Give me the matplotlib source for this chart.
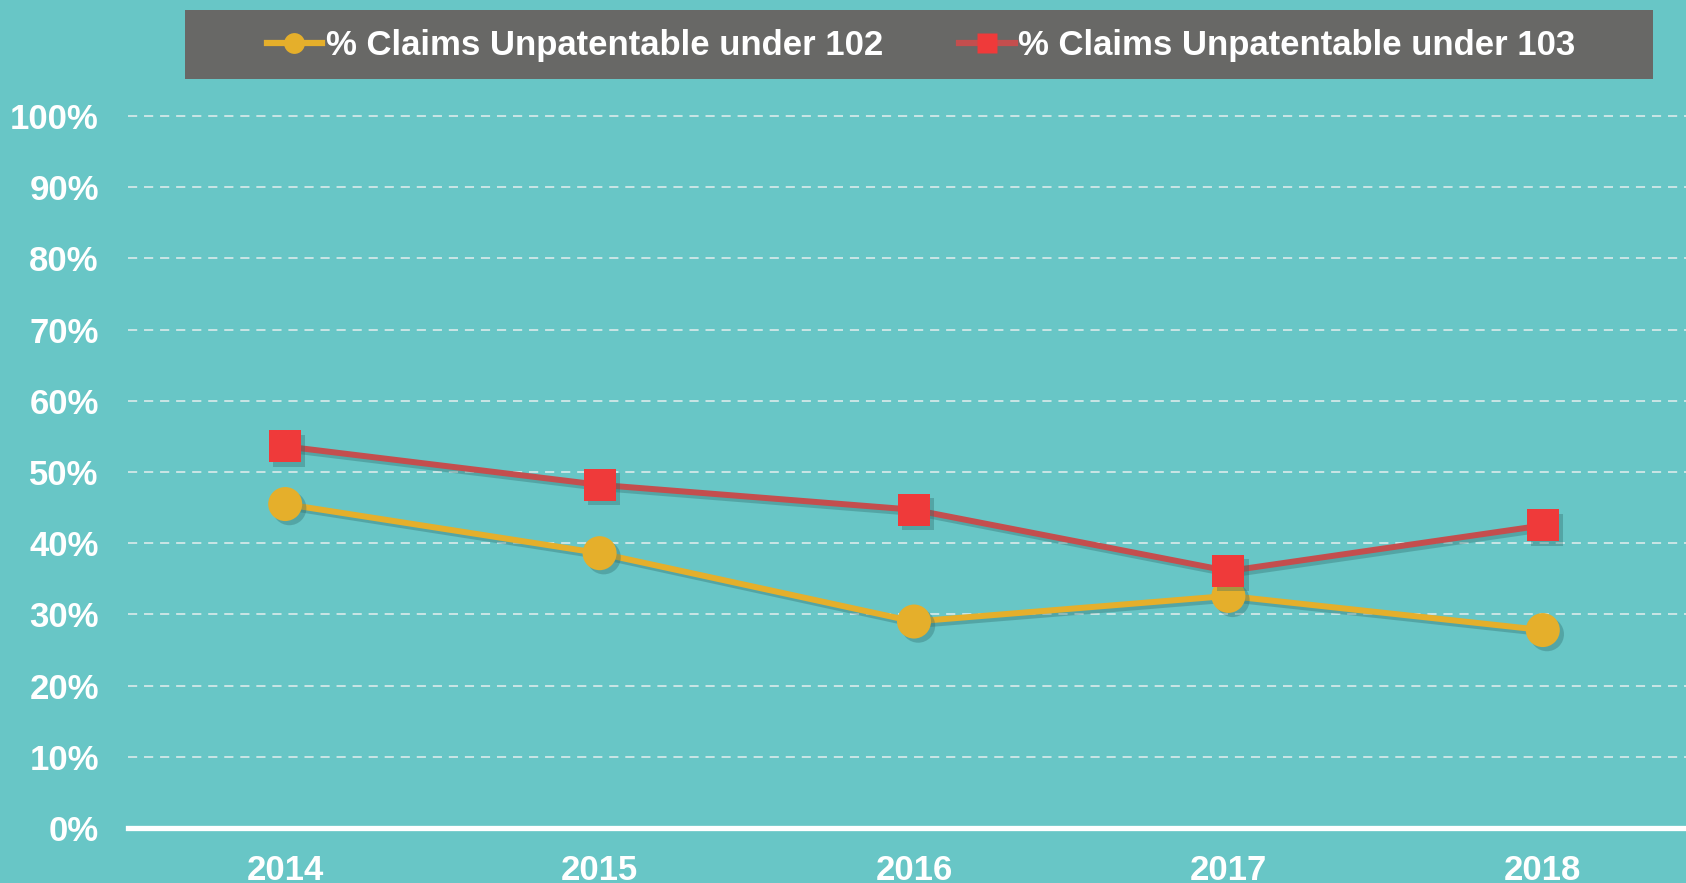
import matplotlib
matplotlib.use("Agg")
import matplotlib.pyplot as plt
import matplotlib.patheffects as pe
from matplotlib.lines import Line2D
from matplotlib.patches import Rectangle

# Data
years = ["2014", "2015", "2016", "2017", "2018"]
pct_102 = [0.455, 0.386, 0.290, 0.326, 0.278]
pct_103 = [0.536, 0.482, 0.447, 0.361, 0.425]
y_ticks = [0.0, 0.1, 0.2, 0.3, 0.4, 0.5, 0.6, 0.7, 0.8, 0.9, 1.0]
y_tick_labels = ["0%", "10%", "20%", "30%", "40%", "50%", "60%", "70%", "80%", "90%", "100%"]
labels = ["% Claims Unpatentable under 102", "% Claims Unpatentable under 103"]

BG = "#68c6c6"
YELLOW = "#e5af2b"
RED_LINE = "#c44e4e"
RED_MARK = "#ef3a3a"
SHADOW = "#2e6a6a"

plt.rcParams["font.family"] = ["Liberation Sans", "DejaVu Sans"]
plt.rcParams["font.weight"] = "bold"

fig = plt.figure(figsize=(16.86, 8.83), dpi=100, facecolor=BG)
ax = fig.add_axes([128 / 1686, 1 - 828 / 883, 1572 / 1686, 726.2 / 883])
ax.set_facecolor(BG)

x = list(range(len(years)))

line_fx = [pe.SimpleLineShadow(offset=(2.5, -2.5), shadow_color=SHADOW, alpha=0.35), pe.Normal()]
mark_fx = [pe.SimplePatchShadow(offset=(3, -3), shadow_rgbFace=SHADOW, alpha=0.35), pe.Normal()]

# Series 102 (yellow circles)
ax.plot(x, pct_102, color=YELLOW, lw=4.3, solid_capstyle="round", path_effects=line_fx, zorder=3)
ax.plot(x, pct_102, ls="none", marker="o", ms=24.5, mfc=YELLOW, mec="none",
        path_effects=mark_fx, zorder=4)

# Series 103 (red squares)
ax.plot(x, pct_103, color=RED_LINE, lw=4.3, solid_capstyle="round", path_effects=line_fx, zorder=5)
ax.plot(x, pct_103, ls="none", marker="s", ms=23, mfc=RED_MARK, mec="none",
        path_effects=mark_fx, zorder=6)

ax.set_xlim(-0.5, 4.5)
ax.set_ylim(0, 1.02)
ax.set_xticks(x)
ax.set_xticklabels(years)
ax.set_yticks(y_ticks)
ax.set_yticklabels(y_tick_labels)
ax.tick_params(axis="both", length=0, labelsize=25, labelcolor="white")
ax.tick_params(axis="y", pad=21)
ax.tick_params(axis="x", pad=19)

for side in ["top", "right", "left"]:
    ax.spines[side].set_visible(False)
ax.spines["bottom"].set_color("white")
ax.spines["bottom"].set_linewidth(3.8)
ax.spines["bottom"].set_zorder(2)

ax.yaxis.grid(True, color="#e4eeee", lw=1.1, dashes=(6, 4.5))
ax.set_axisbelow(True)

# Legend on a grey band at the top
fig.patches.append(Rectangle((185 / 1686, 1 - 79 / 883), 1468 / 1686, 69 / 883,
                             transform=fig.transFigure, facecolor="#686866",
                             edgecolor="none", zorder=0))
handles = [
    Line2D([0], [0], color=YELLOW, lw=4.5, marker="o", ms=15, mfc=YELLOW, mec="none"),
    Line2D([0], [0], color=RED_LINE, lw=4.5, marker="s", ms=14, mfc=RED_MARK, mec="none"),
]
fig.legend(handles, labels, loc="center", bbox_to_anchor=(921 / 1686, 1 - 46 / 883),
           ncol=2, frameon=False, fontsize=25, labelcolor="white",
           handlelength=1.6, handletextpad=0.1, columnspacing=2.2)

fig.savefig("out.png", dpi=100, facecolor=BG)
